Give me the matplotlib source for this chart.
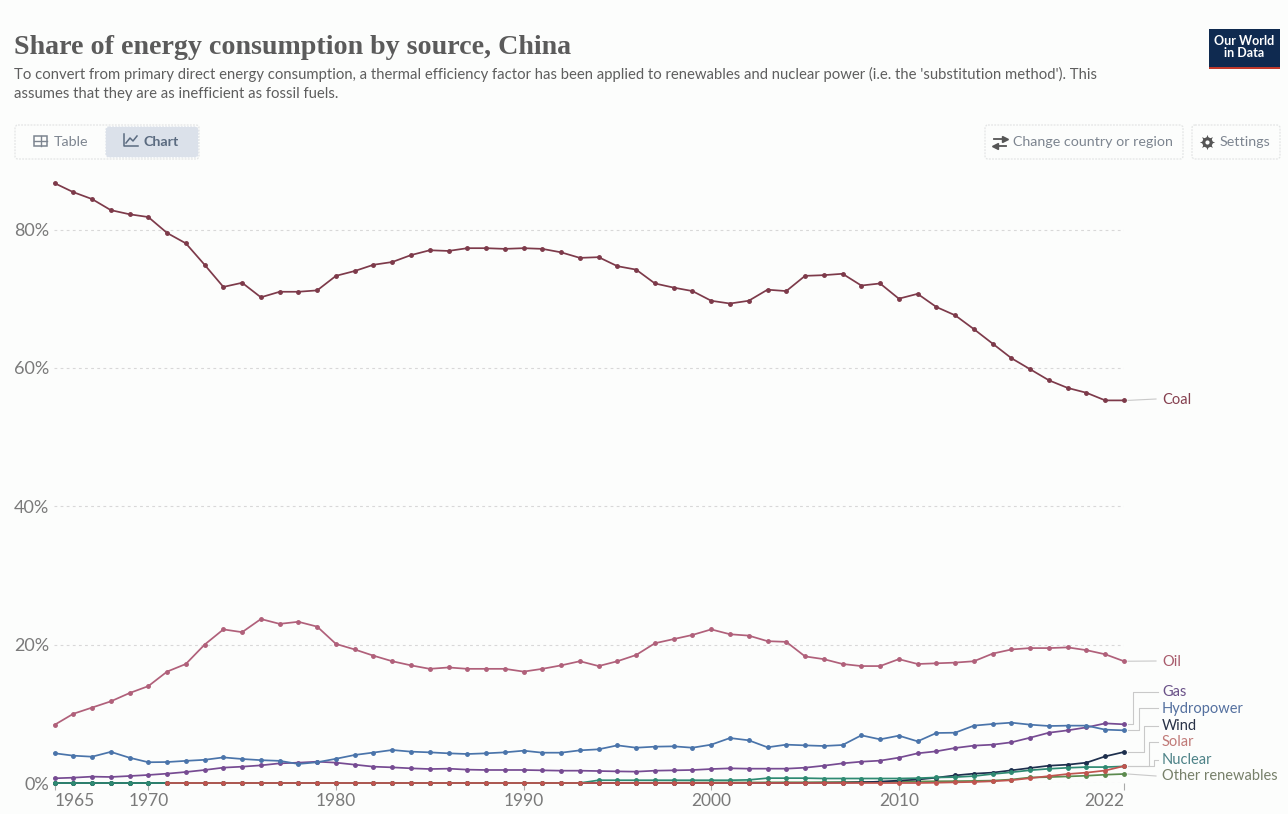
from matplotlib import pyplot as plt
from matplotlib.patches import FancyBboxPatch, Rectangle
import numpy as np

years = np.arange(1965, 2023)

coal = [86.7, 85.4, 84.4, 82.8, 82.2, 81.8, 79.5, 78.0, 74.9, 71.7,
        72.3, 70.2, 71.0, 71.0, 71.2, 73.3, 74.0, 74.9, 75.3, 76.3,
        77.0, 76.9, 77.3, 77.3, 77.2, 77.3, 77.2, 76.7, 75.9, 76.0,
        74.7, 74.2, 72.2, 71.6, 71.1, 69.7, 69.3, 69.7, 71.3, 71.1,
        73.3, 73.4, 73.6, 71.9, 72.2, 70.0, 70.7, 68.8, 67.6, 65.6,
        63.5, 61.4, 59.8, 58.2, 57.1, 56.4, 55.3, 55.3]
oil = [8.4, 10.0, 10.9, 11.8, 13.0, 14.0, 16.1, 17.2, 20.0, 22.2,
       21.8, 23.7, 23.0, 23.3, 22.6, 20.1, 19.3, 18.4, 17.6, 17.0,
       16.5, 16.7, 16.5, 16.5, 16.5, 16.1, 16.5, 17.0, 17.6, 16.9,
       17.6, 18.5, 20.2, 20.8, 21.4, 22.2, 21.5, 21.3, 20.5, 20.4,
       18.3, 17.9, 17.2, 16.9, 16.9, 17.9, 17.2, 17.3, 17.4, 17.6,
       18.7, 19.3, 19.5, 19.5, 19.6, 19.2, 18.6, 17.6]
gas = [0.68, 0.77, 0.92, 0.87, 1.01, 1.16, 1.35, 1.59, 1.88, 2.22,
       2.36, 2.55, 2.84, 2.94, 3.08, 2.94, 2.65, 2.36, 2.26, 2.12,
       2.02, 2.07, 1.93, 1.88, 1.88, 1.88, 1.83, 1.78, 1.78, 1.73,
       1.68, 1.64, 1.78, 1.83, 1.88, 2.02, 2.12, 2.07, 2.07, 2.07,
       2.21, 2.5, 2.84, 3.08, 3.23, 3.66, 4.29, 4.58, 5.06, 5.4,
       5.54, 5.88, 6.55, 7.27, 7.61, 8.04, 8.62, 8.48]
hydropower = [4.3, 3.95, 3.8, 4.5, 3.65, 3.0, 3.03, 3.2, 3.35, 3.7,
              3.47, 3.3, 3.2, 2.75, 3.0, 3.5, 4.05, 4.4, 4.77, 4.53,
              4.43, 4.29, 4.19, 4.29, 4.43, 4.67, 4.38, 4.38, 4.72, 4.87,
              5.44, 5.1, 5.25, 5.3, 5.1, 5.54, 6.5, 6.17, 5.16, 5.54,
              5.44, 5.35, 5.49, 6.89, 6.31, 6.84, 6.02, 7.23, 7.27, 8.29,
              8.53, 8.72, 8.43, 8.24, 8.29, 8.29, 7.71, 7.61]
wind = [0.0] * 40 + [0.02, 0.03, 0.05, 0.1, 0.2, 0.35, 0.5, 0.77,
                     1.1, 1.35, 1.5, 1.83, 2.17, 2.5, 2.65, 2.94, 3.85, 4.48]
nuclear = [0.0] * 29 + [0.4, 0.4, 0.4, 0.4, 0.4, 0.4, 0.4, 0.4, 0.45, 0.7, 0.7,
                        0.7, 0.65, 0.65, 0.65, 0.65, 0.65, 0.7, 0.8, 0.85, 1.0,
                        1.3, 1.55, 1.85, 2.05, 2.2, 2.3, 2.3, 2.4]
solar = [np.nan] * 6 + [0.0] * 41 + [0.04, 0.1, 0.15, 0.25, 0.4, 0.7, 1.0, 1.3, 1.5, 1.8, 2.45]
other_renewables = [0.0] * 30 + [0.02, 0.03, 0.04, 0.05, 0.06, 0.07, 0.08, 0.08, 0.09, 0.1,
                                 0.1, 0.12, 0.13, 0.15, 0.17, 0.2, 0.22, 0.25, 0.27,
                                 0.3, 0.35, 0.5, 0.8, 0.85, 0.95, 1.05, 1.2, 1.3]

y_ticks = [0, 20, 40, 60, 80]
x_ticks = [1965, 1970, 1980, 1990, 2000, 2010, 2022]

# name, values, line colour, text colour
series = [
    ('Coal', coal, '#7d3a4a', '#85404f'),
    ('Oil', oil, '#b0607a', '#a85b6c'),
    ('Gas', gas, '#764b92', '#6a5288'),
    ('Hydropower', hydropower, '#4a74aa', '#54709f'),
    ('Other renewables', other_renewables, '#5c8a4e', '#77806a'),
    ('Wind', wind, '#1d2f4d', '#2a3348'),
    ('Nuclear', nuclear, '#2e8a72', '#4d8287'),
    ('Solar', solar, '#c0544f', '#c07a78'),
]

W, H = 1288, 814
bg = '#fcfdfc'
txt = '#5e5e5e'
fig = plt.figure(figsize=(W / 100, H / 100), dpi=100, facecolor=bg)

# main chart, 0% sits at y=783px and 80% at y=229.5px
px_per_pct = (783 - 229.5) / 80
top_px = 170
ax = fig.add_axes([54.5 / W, (H - 783) / H, (1124 - 54.5) / W, (783 - top_px) / H])
ax.set_facecolor('none')
ax.set_xlim(1965, 2022)
ax.set_ylim(0, (783 - top_px) / px_per_pct)
for s in ax.spines.values():
    s.set_visible(False)

ax.set_yticks(y_ticks)
ax.set_yticklabels([f'{v}%' for v in y_ticks], fontsize=13, color='#7a7a7a', family='Lato')
ax.tick_params(axis='y', length=0, pad=4)
ax.grid(axis='y', color='#d8d8d8', linestyle=(0, (2.5, 3)), linewidth=0.8)
ax.set_axisbelow(True)

ax.set_xticks(x_ticks)
labels = ax.set_xticklabels(x_ticks, fontsize=12.5, color='#7a7a7a', family='Lato')
labels[0].set_ha('left')
labels[-1].set_ha('right')
ax.tick_params(axis='x', length=5, width=0.8, color='#aaaaaa', pad=2)

for name, values, color, _ in series:
    ax.plot(years, values, color=color, linewidth=1.25, marker='o', markersize=2.5,
            clip_on=False, zorder=3)

# overlay in pixel coords for header, buttons, labels
ui = fig.add_axes([0, 0, 1, 1])
ui.set_xlim(0, W)
ui.set_ylim(H, 0)
ui.axis('off')
ui.patch.set_alpha(0)

ui.text(14, 48, 'Share of energy consumption by source, China', fontsize=20.2, fontweight='bold',
        family='Liberation Serif', color='#5b5b5b', va='center')
ui.text(14, 74, "To convert from primary direct energy consumption, a thermal efficiency factor has been "
        "applied to renewables and nuclear power (i.e. the 'substitution method'). This",
        fontsize=10.75, family='Lato', color=txt, va='center')
ui.text(14, 94, 'assumes that they are as inefficient as fossil fuels.',
        fontsize=10.75, family='Lato', color=txt, va='center')

# logo
ui.add_patch(Rectangle((1209, 29), 71, 38, color='#0f2a50', lw=0))
ui.add_patch(Rectangle((1209, 67), 71, 1.5, color='#c0392b', lw=0))
ui.text(1244.5, 47, 'Our World\nin Data', color='white', fontsize=9, fontweight='bold', family='Lato',
        ha='center', va='center', linespacing=0.95)


def button(x0, y0, x1, y1, fc='none', ec='#e3e5e5'):
    ui.add_patch(FancyBboxPatch((x0, y0), x1 - x0, y1 - y0, boxstyle='round,pad=0,rounding_size=3',
                                fc=fc, ec=ec, lw=0.9, linestyle=(0, (1.5, 1))))


button(15, 125, 199, 159)
button(106, 127, 198, 157, fc='#dbe1ea', ec='#dbe1ea')
button(985, 125, 1183, 159)
button(1192, 125, 1280, 159)

ui.text(54, 142, 'Table', fontsize=10.3, family='Lato', color='#7d8590', va='center')
ui.text(144, 142, 'Chart', fontsize=10.3, family='Lato', fontweight='bold', color='#5b6b80', va='center')
ui.text(1013, 142, 'Change country or region', fontsize=10.3, family='Lato', color='#7d8590', va='center')
ui.text(1220, 142, 'Settings', fontsize=10.3, family='Lato', color='#7d8590', va='center')

# icons
ui.add_patch(Rectangle((34.5, 135.5), 13, 10, fc='none', ec='#7d8590', lw=1.1))
ui.plot([34.5, 47.5], [140.5, 140.5], color='#7d8590', lw=1)
ui.plot([41, 41], [135.5, 145.5], color='#7d8590', lw=1)
ui.plot([124, 124, 138], [134, 146, 146], color='#5b6b80', lw=1.1)
ui.plot([126, 130, 133, 137], [143, 138, 141, 136], color='#5b6b80', lw=1.1)
ui.plot([994, 1005], [139, 139], color='#555555', lw=1.3)
ui.plot([1005], [139], marker='>', ms=4, color='#555555')
ui.plot([995, 1006], [146, 146], color='#555555', lw=1.3)
ui.plot([995], [146], marker='<', ms=4, color='#555555')
ui.plot([1207], [142], marker=(8, 1, 0), ms=11, color='#555555', mew=0)
ui.plot([1207], [142], marker='o', ms=7.5, color='#555555', mew=0)
ui.plot([1207], [142], marker='o', ms=3, color=bg, mew=0)

# series labels with elbow connectors
label_pos = {
    'Coal': (399, None),
    'Oil': (661, None),
    'Gas': (692, 1133),
    'Hydropower': (708, 1139),
    'Wind': (726, 1144),
    'Solar': (742, 1149),
    'Nuclear': (760, 1154),
    'Other renewables': (776, None),
}
for name, values, _, text_color in series:
    label_y, elbow_x = label_pos[name]
    end_y = H - ax.transData.transform((2022, values[-1]))[1]
    if elbow_x is None:
        xs, ys = [1128, 1156], [end_y, label_y]
    else:
        xs, ys = [1128, elbow_x, elbow_x, 1158], [end_y, end_y, label_y, label_y]
    ui.plot(xs, ys, color='#c9c9c9', lw=0.8)
    ui.text(1162, label_y + 0.5, name, fontsize=10.5, family='Lato', color=text_color, va='center')

plt.savefig('out.png', dpi=100, facecolor=bg)
